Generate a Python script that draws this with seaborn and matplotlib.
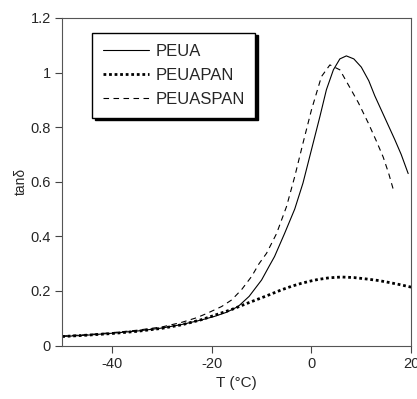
import pandas as pd
import matplotlib.pyplot as plt
import seaborn as sns

# tan delta vs temperature
t_peua = [-50, -45, -40, -35, -30, -26, -22, -19.4, -17, -14.7, -12.5, -10, -8.5, -7.4, -5.4, -3.35, -1.7, 0,
          1.7, 3, 4.4, 5.7, 7, 8.5, 10, 11.5, 12.7, 14.7, 16.7, 18, 19.4]
y_peua = [0.033, 0.038, 0.045, 0.053, 0.064, 0.077, 0.094, 0.107, 0.122, 0.143, 0.180, 0.24, 0.29, 0.326,
          0.41, 0.50, 0.595, 0.717, 0.839, 0.937, 1.01, 1.05, 1.061, 1.05, 1.02, 0.97, 0.915, 0.835, 0.755,
          0.70, 0.63]

t_peuapan = [-50, -45, -40, -35, -30, -26, -22, -19.4, -16, -12.7, -9, -6, -4, -2, 0, 1.3, 3.5, 6, 8.5,
             11.4, 13.5, 15, 17.5, 20]
y_peuapan = [0.033, 0.038, 0.044, 0.052, 0.063, 0.076, 0.095, 0.111, 0.132, 0.156, 0.182, 0.204, 0.217,
             0.228, 0.237, 0.242, 0.248, 0.251, 0.249, 0.243, 0.238, 0.233, 0.224, 0.214]

t_peuaspan = [-50, -45, -40, -35, -30, -26, -23, -20.8, -18, -16, -14, -12, -10.5, -9, -7, -5, -3.35, -1.7,
              0, 2, 3.7, 5.7, 7.4, 9.4, 11.4, 13, 14.4, 15.5, 16.6]
y_peuaspan = [0.035, 0.040, 0.047, 0.056, 0.068, 0.085, 0.102, 0.119, 0.143, 0.167, 0.205, 0.253, 0.30,
              0.338, 0.41, 0.509, 0.619, 0.741, 0.863, 0.985, 1.028, 1.01, 0.955, 0.89, 0.815, 0.75, 0.69,
              0.63, 0.56]

series = ['PEUA', 'PEUAPAN', 'PEUASPAN']
frames = [
    pd.DataFrame({'T': t_peua, 'tand': y_peua, 'sample': 'PEUA'}),
    pd.DataFrame({'T': t_peuapan, 'tand': y_peuapan, 'sample': 'PEUAPAN'}),
    pd.DataFrame({'T': t_peuaspan, 'tand': y_peuaspan, 'sample': 'PEUASPAN'}),
]
df = pd.concat(frames, ignore_index=True)

sns.set_style('ticks')
plt.rcParams['font.family'] = ['Liberation Sans', 'DejaVu Sans']
plt.rcParams['axes.unicode_minus'] = False

fig = plt.figure(figsize=(4.17, 3.99), dpi=100)
ax = fig.add_axes([0.149, 0.134, 0.837, 0.821])

styles = {
    'PEUA': dict(lw=0.8, ls='-'),
    'PEUAPAN': dict(lw=2.0, ls=(0, (1, 1))),
    'PEUASPAN': dict(lw=0.8, ls=(0, (5, 4))),
}
for name in series:
    sns.lineplot(data=df[df['sample'] == name], x='T', y='tand', ax=ax, color='black',
                 label=name, sort=False, estimator=None, **styles[name])

ax.set_xlim(-50, 20)
ax.set_ylim(0, 1.2)
ax.set_xticks([-40, -20, 0, 20])
ax.set_yticks([0, 0.2, 0.4, 0.6, 0.8, 1.0, 1.2])
ax.set_yticklabels(['0', '0.2', '0.4', '0.6', '0.8', '1', '1.2'])
ax.tick_params(labelsize=10.5, length=5, width=0.8, color='#444444', pad=3)
for s in ax.spines.values():
    s.set_color('#555555')
    s.set_linewidth(0.8)

ax.set_xlabel('T (°C)', fontsize=11, labelpad=4)
ax.set_ylabel('tanδ', fontsize=10, labelpad=2)

leg = ax.legend(loc='upper left', bbox_to_anchor=(0.085, 0.955), frameon=True,
                shadow={'color': 'black', 'alpha': 1}, fancybox=False, edgecolor='black',
                framealpha=1, fontsize=12, handlelength=2.8, handletextpad=0.35,
                borderpad=0.65, labelspacing=0.55, borderaxespad=0)
leg.get_frame().set_linewidth(1.0)

fig.savefig('out.png', dpi=100)
plt.close()
